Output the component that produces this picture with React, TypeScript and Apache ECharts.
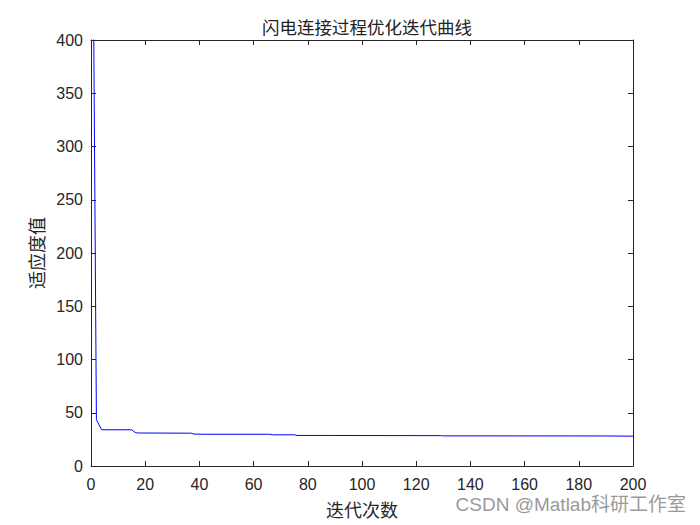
import React, { useEffect, useRef } from "react";
import * as echarts from "echarts";

// Breakpoints of the convergence curve (iteration, fitness); the curve is flat between them
const iterations = [1, 2, 3, 4, 15, 16, 17, 37, 38, 42, 66, 67, 75, 76, 129, 130, 190, 200];
const fitness = [410, 43.5, 38.5, 34, 34, 32, 31, 30.8, 30.0, 29.8, 29.8, 29.3, 29.3, 28.7, 28.5, 28.3, 28.2, 28.0];
const xTicks = [0, 20, 40, 60, 80, 100, 120, 140, 160, 180, 200];
const yTicks = [0, 50, 100, 150, 200, 250, 300, 350, 400];

const titleText = "闪电连接过程优化迭代曲线";
const xName = "迭代次数";
const yName = "适应度值";
const watermark = "CSDN @Matlab科研工作室";

export default function App() {
  const ref = useRef<HTMLDivElement>(null);
  useEffect(() => {
    if (!ref.current) return;
    const chart = echarts.init(ref.current, undefined, { renderer: "svg" });
    const tickFont = { fontFamily: "Liberation Sans, Arial, sans-serif", fontSize: 16, color: "#262626" };
    const axisLine = { show: true, onZero: false, lineStyle: { color: "#262626", width: 1 } };
    const axisTick = { show: true, inside: true, length: 5, lineStyle: { color: "#262626", width: 1 } };
    chart.setOption({
      animation: false,
      backgroundColor: "#ffffff",
      title: {
        text: titleText,
        left: 362,
        top: 13,
        textAlign: "center",
        textStyle: { fontFamily: "Noto Sans CJK SC", fontSize: 17.5, fontWeight: "normal", color: "#222" },
      },
      grid: { left: 91, right: 67, top: 40, bottom: 59, containLabel: false },
      xAxis: [
        {
          type: "value",
          min: 0,
          max: 200,
          interval: 20,
          position: "bottom",
          axisLine,
          axisTick,
          splitLine: { show: false },
          axisLabel: { ...tickFont, margin: 10, formatter: (v: number) => (xTicks.includes(v) ? String(v) : "") },
          name: xName,
          nameLocation: "middle",
          nameGap: 34,
          nameTextStyle: { fontFamily: "Noto Sans CJK SC", fontSize: 18, color: "#262626" },
        },
        {
          type: "value",
          min: 0,
          max: 200,
          interval: 20,
          position: "top",
          axisLine,
          axisTick,
          axisLabel: { show: false },
          splitLine: { show: false },
        },
      ],
      yAxis: [
        {
          type: "value",
          min: 0,
          max: 400,
          interval: 50,
          position: "left",
          axisLine,
          axisTick,
          splitLine: { show: false },
          axisLabel: { ...tickFont, margin: 8, formatter: (v: number) => (yTicks.includes(v) ? String(v) : "") },
          name: yName,
          nameLocation: "middle",
          nameGap: 45,
          nameRotate: 90,
          nameTextStyle: { fontFamily: "Noto Sans CJK SC", fontSize: 18, color: "#262626" },
        },
        {
          type: "value",
          min: 0,
          max: 400,
          interval: 50,
          position: "right",
          axisLine,
          axisTick,
          axisLabel: { show: false },
          splitLine: { show: false },
        },
      ],
      series: [
        {
          type: "line",
          data: iterations.map((x, i) => [x, fitness[i]]),
          showSymbol: false,
          symbol: "none",
          clip: true,
          lineStyle: { color: "#0000ff", width: 1 },
        },
      ],
      graphic: [
        {
          type: "text",
          right: 14,
          top: 495,
          style: {
            text: watermark,
            fontFamily: "Liberation Sans, Noto Sans CJK SC, sans-serif",
            fontSize: 19,
            fill: "#9a9a9a",
          },
        },
      ],
    });
    return () => chart.dispose();
  }, []);
  return <div ref={ref} style={{ width: 700, height: 525, position: "absolute", left: 0, top: 0 }} />;
}
